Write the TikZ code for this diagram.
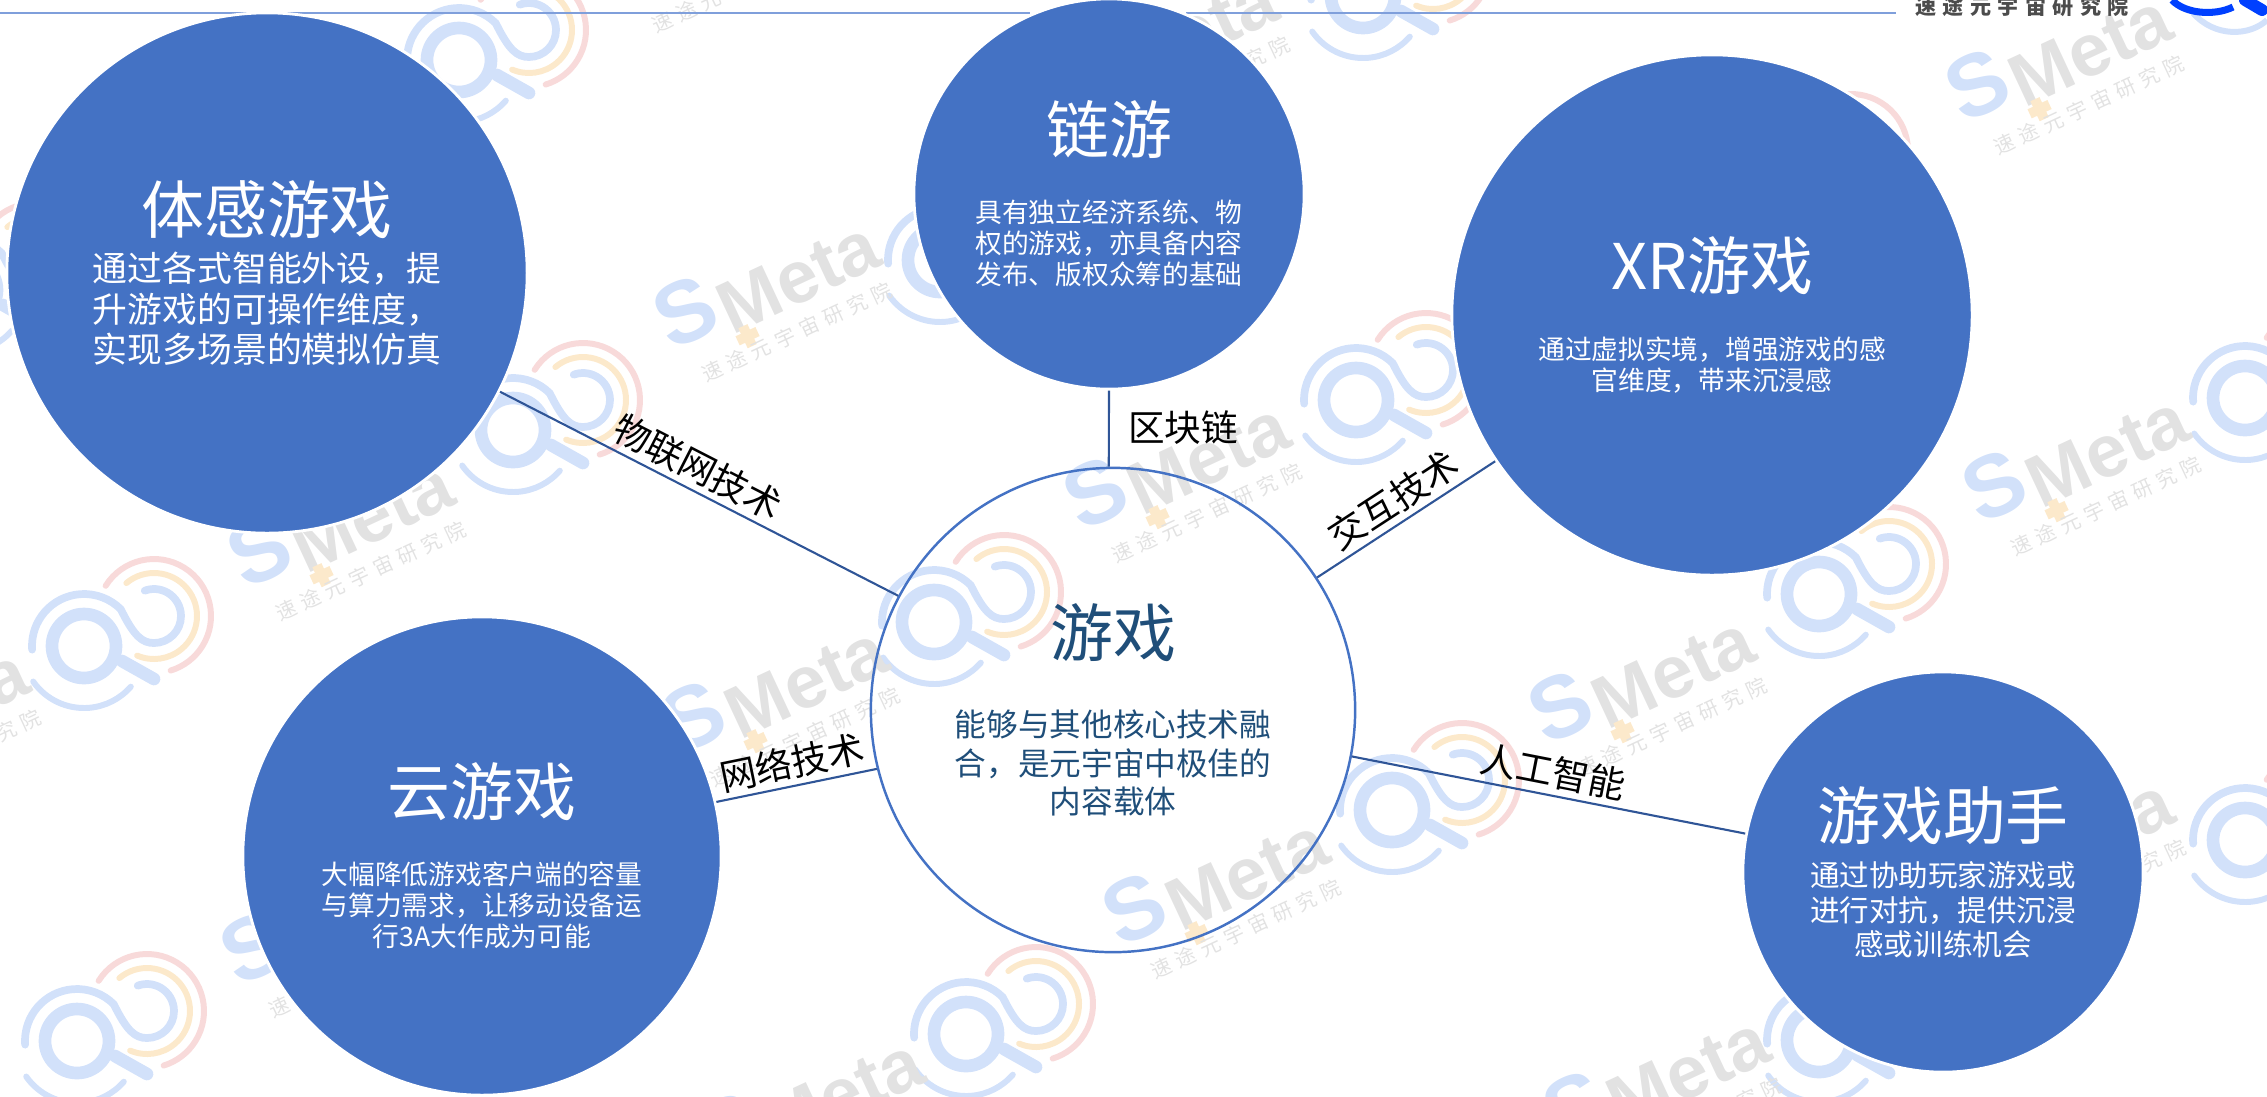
\documentclass[tikz,border=0pt]{standalone}
\usepackage{fontspec}
\setmainfont{Noto Sans CJK SC}
\newfontfamily\markfont{Liberation Sans}
\newfontfamily\markcjk[LetterSpace=30]{Noto Sans CJK SC}
\definecolor{ballblue}{HTML}{4472C4}
\definecolor{linkblue}{HTML}{2F5597}
\definecolor{hubblue}{HTML}{1F4E79}
\definecolor{rulerblue}{HTML}{7F9FDB}
\definecolor{markblue}{HTML}{D2E1FA}
\definecolor{markgold}{HTML}{FCE9CB}
\definecolor{markred}{HTML}{F8DADA}
\definecolor{markgrey}{HTML}{E2E2E2}
\tikzset{
  ball/.style={circle,fill=ballblue,draw=white,line width=0.8pt,text=white,align=center,inner sep=0pt},
  hub/.style={circle,draw=ballblue,line width=0.7pt,text=hubblue,align=center,inner sep=0pt},
  tag/.style={text=black,inner sep=1.5pt,font=\fontsize{10.4}{12}\selectfont},
  link/.style={draw=linkblue,line width=0.6pt},
  markword/.style={rotate=25,text=markgrey,inner sep=0pt,font=\markfont\bfseries\fontsize{21}{24}\selectfont},
}
\newcommand{\headfont}{\fontsize{17.9}{21}\selectfont}
% logo, local y points up
\newcommand{\lenslogo}[2]{%
  \begin{scope}[shift={(#1,#2)},yscale=-1,line cap=round]
    \draw[markred,line width=1.7pt] (70,30) ++(148:57) arc (148:-73:57);
    \draw[markgold,line width=1.7pt] (70,30) ++(130:43) arc (130:-113:43);
    \draw[markblue,line width=3.6pt] (0,0) circle (32);
    \draw[markblue,line width=3.6pt] (38,-15) -- (70,-33);
    \draw[markblue,line width=1.7pt] (215:62) arc (215:319:62);
    \draw[markblue,line width=2.2pt] (184:52) arc (184:45:52)
      .. controls (50,10) and (58,3) .. (70,3) arc (-90:110:27);
  \end{scope}}
\newcommand{\smetamark}[2]{%
  \begin{scope}[shift={(#1,#2)}]
    \node[markword,text=markblue,font=\markfont\bfseries\fontsize{25}{26}\selectfont] (s#1x#2) at (-88,23) {S};
    \node[markword] (mark#1x#2) at (25,-12) {Meta};
    \fill[markgold,rotate=25] (-43,32) +(-5,-11) rectangle +(5,11) +(-11,-5) rectangle +(11,5);
    \node[rotate=25,text=markgrey,font=\markcjk\fontsize{5.8}{7}\selectfont] (sub#1x#2) at (24,43) {速途元宇宙研究院};
  \end{scope}}
\begin{document}
\begin{tikzpicture}[x=0.01cm,y=-0.01cm]
  \path[use as bounding box,clip] (0,0) rectangle (2267,1096);
  \foreach \px/\py in {459/60,513/430,84/646,77/1041,934/622,966/1034,1356/400,1392/810,
    1819/594,2245/398,2245/840,940/260,1363/-4,1781/181,1819/1040,-35/290}
    {\lenslogo{\px}{\py}}
  \foreach \px/\py in {2065/62,773/289,1171/43,1183/470,1648/684,2082/463,347/528,781/694,
    1222/886,2067/846,-78/716,340/925,817/1106,1663/1084,723/-60}
    {\smetamark{\px}{\py}}
  \coordinate (ruleA) at (0,13);
  \coordinate (ruleB) at (1030,13);
  \coordinate (ruleC) at (1186,13);
  \coordinate (ruleD) at (1896,13);
  \draw[rulerblue,line width=0.5pt] (ruleA) -- (ruleB) (ruleC) -- (ruleD);
  \node[text=black!70,font=\markcjk\bfseries\fontsize{6}{7}\selectfont] (brand) at (2022,6) {速途元宇宙研究院};
  \draw[markblue,line width=1.7pt] (2193,13) .. controls (2215,38) and (2250,36) .. (2267,20);
  \draw[blue!75!cyan,line width=2pt] (2172,0) .. controls (2185,14) and (2215,16) .. (2233,7);
  \draw[blue!75!cyan,line width=3.4pt,line cap=round] (2245,0) -- (2262,10);
  \draw
    (267,273) node[ball,minimum size=5.2cm,font=\fontsize{9.9}{11.5}\selectfont] (tigan){{\headfont 体感游戏}\\[2.2pt]
      通过各式智能外设，提\\升游戏的可操作维度，\\实现多场景的模拟仿真}
    (1109,194) node[ball,minimum size=3.9cm,font=\fontsize{7.6}{8.9}\selectfont] (chain){{\headfont 链游}\\[10.6pt]
      具有独立经济系统、物\\权的游戏，亦具备内容\\发布、版权众筹的基础}
    (1712,315) node[ball,minimum size=5.2cm,font=\fontsize{7.6}{8.9}\selectfont] (xr){{\headfont XR游戏}\\[11pt]
      通过虚拟实境，增强游戏的感\\官维度，带来沉浸感}
    (482,856) node[ball,minimum size=4.78cm,font=\fontsize{7.6}{8.9}\selectfont] (cloud){{\headfont 云游戏}\\[10.6pt]
      大幅降低游戏客户端的容量\\与算力需求，让移动设备运\\行3A大作成为可能}
    (1943,872) node[ball,minimum size=4cm,font=\fontsize{8.4}{9.7}\selectfont] (helper){{\headfont 游戏助手}\\[3.8pt]
      通过协助玩家游戏或\\进行对抗，提供沉浸\\感或训练机会}
    (1113,710) node[hub,minimum size=4.84cm,font=\fontsize{9}{10.9}\selectfont] (game){{\headfont 游戏}\\[11.8pt]
      能够与其他核心技术融\\合，是元宇宙中极佳的\\内容载体};
  \begin{scope}[-]
    \draw[link] (tigan.333) to node[tag,sloped,above,pos=0.47] (iot){物联网技术} (game.152);
    \draw[link] (chain.270) to node[tag,right=3.7pt,pos=0.48] (block){区块链} (game.91);
    \draw[link] (xr.214) to node[tag,sloped,above,pos=0.5] (touch){交互技术} (game.33);
    \draw[link] (cloud.13) to node[tag,sloped,above,pos=0.5] (net){网络技术} (game.194);
    \draw[link] (helper.169) to node[tag,sloped,above,pos=0.5] (ai){人工智能} (game.349);
  \end{scope}
\end{tikzpicture}
\end{document}
